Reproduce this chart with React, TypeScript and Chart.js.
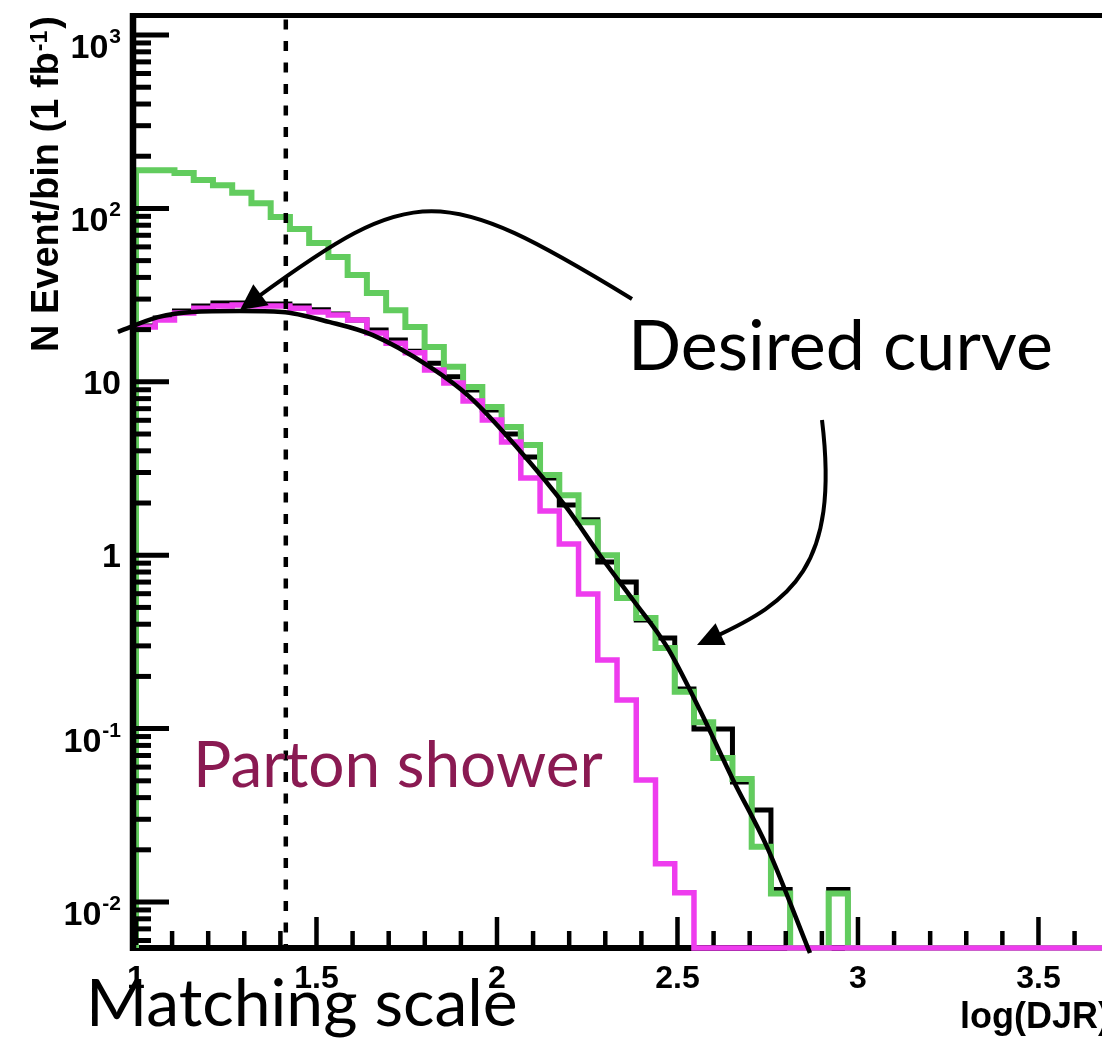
import { useEffect, useRef } from "react";
import { Chart, registerables } from "chart.js";

Chart.register(...registerables);

const W = 1102;
const H = 1039;

// log(DJR) histogram binning
const binStart = 1.0;
const binWidth = 0.0533;

// N events per bin (1 fb^-1), one entry per bin starting at binStart
const greenSample = [
  166, 166, 160, 146, 136, 123, 107, 89.2, 76.1, 63.2,
  52.5, 41.3, 32.5, 25.9, 20.7, 15.9, 12.2, 9.33, 7.16, 5.49,
  4.32, 2.9, 2.22, 1.55, 1.0, 0.567, 0.434, 0.292, 0.163, 0.109,
  0.0677, 0.0512, 0.0208, 0.0112, 0, 0, 0.0112, 0, 0, 0,
  0, 0, 0, 0, 0, 0, 0, 0, 0, 0, 0,
];
const showerSample = [
  20.7, 22.7, 24.9, 26.6, 27.4, 27.7, 27.4, 27.4, 26.6, 25.3,
  24.3, 22.7, 19.1, 16.7, 14.7, 11.7, 9.84, 7.75, 6.02, 4.5,
  2.79, 1.8, 1.16, 0.597, 0.249, 0.146, 0.0505, 0.0166, 0.0113, 0,
  0, 0, 0, 0, 0, 0, 0, 0, 0, 0,
  0, 0, 0, 0, 0, 0, 0, 0, 0, 0, 0,
];
const blackSample = [
  21.0, 23.3, 25.6, 27.4, 28.5, 28.5, 28.1, 28.1, 27.4, 26.0,
  24.6, 22.7, 19.9, 17.4, 15.0, 12.8, 10.7, 8.97, 6.88, 5.0,
  3.68, 2.79, 1.95, 1.6, 0.914, 0.7, 0.423, 0.333, 0.169, 0.0995,
  0.0995, 0.0492, 0.0339, 0.0118, 0, 0, 0.0118, 0, 0, 0,
  0, 0, 0, 0, 0, 0, 0, 0, 0, 0, 0,
];

// smooth target curve
const curveX = [0.95, 1.061, 1.155, 1.288, 1.404, 1.537, 1.656, 1.814, 1.925, 2.055, 2.194, 2.285, 2.377, 2.471, 2.562, 2.654, 2.748, 2.867];
const curveY = [19.4, 23.6, 25.3, 25.6, 25.3, 22.1, 18.6, 12.2, 8.17, 4.2, 1.87, 1.0, 0.552, 0.296, 0.128, 0.0506, 0.0208, 0.00508];

// axes
const xTickValues = [1, 1.5, 2, 2.5, 3, 3.5];
const xTickLabels = ["1", "1.5", "2", "2.5", "3", "3.5"];
const yTickValues = [0.01, 0.1, 1, 10, 100, 1000];
const yTickLabels = ["10^-2", "10^-1", "1", "10", "10^2", "10^3"];
const matchingScale = 1.415;

const X_MIN = 0.9917;
const X_MAX = 3.676;
const Y_MIN = 0.00543;
const Y_MAX = 1296;

const SANS = '"Liberation Sans", Arial, Helvetica, sans-serif';
const NOTE = 'Lato, "Open Sans", sans-serif';

// histogram outline: empty bins sit on the frame floor
function stepPoints(counts: number[], leadingEdge: boolean) {
  const pts: { x: number; y: number }[] = leadingEdge ? [{ x: binStart, y: Y_MIN }] : [];
  counts.forEach((c, i) => pts.push({ x: binStart + i * binWidth, y: c > 0 ? c : Y_MIN }));
  const last = counts[counts.length - 1];
  pts.push({ x: binStart + counts.length * binWidth, y: last > 0 ? last : Y_MIN });
  return pts;
}

function seg(ctx: CanvasRenderingContext2D, x1: number, y1: number, x2: number, y2: number) {
  ctx.beginPath();
  ctx.moveTo(x1, y1);
  ctx.lineTo(x2, y2);
  ctx.stroke();
}

function arrow(
  ctx: CanvasRenderingContext2D,
  p0: number[],
  c1: number[],
  c2: number[],
  tip: number[],
  len: number,
  half: number
) {
  const dx = tip[0] - c2[0];
  const dy = tip[1] - c2[1];
  const d = Math.hypot(dx, dy);
  const ux = dx / d;
  const uy = dy / d;
  const ex = tip[0] - ux * len * 0.7;
  const ey = tip[1] - uy * len * 0.7;
  ctx.beginPath();
  ctx.moveTo(p0[0], p0[1]);
  ctx.bezierCurveTo(c1[0], c1[1], c2[0], c2[1], ex, ey);
  ctx.stroke();
  const bx = tip[0] - ux * len;
  const by = tip[1] - uy * len;
  ctx.beginPath();
  ctx.moveTo(tip[0], tip[1]);
  ctx.lineTo(bx - uy * half, by + ux * half);
  ctx.lineTo(bx + uy * half, by - ux * half);
  ctx.closePath();
  ctx.fill();
}

function drawYLabel(ctx: CanvasRenderingContext2D, label: string, y: number) {
  const right = 121;
  ctx.textAlign = "right";
  ctx.textBaseline = "alphabetic";
  const parts = label.split("^");
  if (parts.length === 1) {
    ctx.font = `bold 34px ${SANS}`;
    ctx.fillText(parts[0], right, y + 12);
    return;
  }
  ctx.font = `bold 21px ${SANS}`;
  const sw = ctx.measureText(parts[1]).width;
  ctx.fillText(parts[1], right, y + 8);
  ctx.font = `bold 34px ${SANS}`;
  ctx.fillText(parts[0], right - sw - 1, y + 23);
}

const frame = {
  id: "frame",
  beforeDatasetsDraw(chart: any) {
    const { ctx, chartArea: a } = chart;
    ctx.save();
    ctx.strokeStyle = "#000";
    ctx.lineWidth = 6;
    seg(ctx, a.left - 3, a.bottom, a.right, a.bottom);
    ctx.lineWidth = 5;
    seg(ctx, a.left - 3, a.top, a.right, a.top);
    ctx.restore();
  },
  afterDatasetsDraw(chart: any) {
    const { ctx, chartArea: a, scales } = chart;
    const xs = scales.x;
    const ys = scales.y;
    ctx.save();
    ctx.strokeStyle = "#000";
    ctx.fillStyle = "#000";
    ctx.lineCap = "butt";

    // left axis
    ctx.lineWidth = 6.5;
    seg(ctx, a.left, a.top - 2.5, a.left, a.bottom + 3);

    // y ticks, pointing inwards
    ctx.lineWidth = 5;
    for (let e = -3; e <= 3; e++) {
      for (let k = 1; k <= 9; k++) {
        const v = k * Math.pow(10, e);
        if (v < Y_MIN || v > Y_MAX) continue;
        const y = ys.getPixelForValue(v);
        seg(ctx, a.left, y, a.left + (k === 1 ? 36 : 18), y);
      }
    }
    // x ticks
    ctx.lineWidth = 4.5;
    for (let k = 10; k <= 36; k++) {
      const x = xs.getPixelForValue(k / 10);
      const len = k % 5 === 0 ? 28 : 14;
      seg(ctx, x, a.bottom - 3, x, a.bottom - 3 - len);
    }

    // matching scale
    ctx.lineWidth = 4.5;
    ctx.setLineDash([10, 11.5]);
    const xm = xs.getPixelForValue(matchingScale);
    seg(ctx, xm, a.top + 4, xm, a.bottom - 3);
    ctx.setLineDash([]);

    // tick labels
    yTickValues.forEach((v, i) => drawYLabel(ctx, yTickLabels[i], ys.getPixelForValue(v)));
    ctx.font = `bold 32px ${SANS}`;
    ctx.textAlign = "center";
    xTickValues.forEach((v, i) => ctx.fillText(xTickLabels[i], xs.getPixelForValue(v), 988));

    // axis titles
    ctx.font = `bold 36px ${SANS}`;
    ctx.textAlign = "right";
    ctx.fillText("log(DJR)", 1110, 1028);

    ctx.save();
    ctx.translate(58, 352);
    ctx.rotate(-Math.PI / 2);
    ctx.textAlign = "left";
    ctx.font = `bold 38px ${SANS}`;
    const t1 = "N Event/bin (1 fb";
    const w1 = ctx.measureText(t1).width;
    ctx.fillText(t1, 0, 0);
    ctx.font = `bold 23px ${SANS}`;
    const w2 = ctx.measureText("-1").width;
    ctx.fillText("-1", w1 + 1, -11);
    ctx.font = `bold 38px ${SANS}`;
    ctx.fillText(")", w1 + w2 + 3, 0);
    ctx.restore();

    // notes
    ctx.lineWidth = 4;
    arrow(ctx, [632, 299], [440, 182], [415, 182], [240, 310], 26, 13);
    arrow(ctx, [822, 420], [840, 568], [790, 602], [697, 645], 26, 12);

    ctx.textAlign = "left";
    ctx.font = `70px ${NOTE}`;
    ctx.fillText("Desired curve", 628, 370);
    ctx.font = `66px ${NOTE}`;
    ctx.fillText("Matching scale", 86, 1026);
    ctx.fillStyle = "#8a1a52";
    ctx.font = `64px ${NOTE}`;
    ctx.fillText("Parton shower", 193, 787);
    ctx.restore();
  },
};

export default function App() {
  const ref = useRef<HTMLCanvasElement>(null);

  useEffect(() => {
    if (!ref.current) return;
    const hist = (data: number[], color: string, width: number, leadingEdge: boolean) => ({
      data: stepPoints(data, leadingEdge),
      borderColor: color,
      borderWidth: width,
      stepped: "before" as const,
      pointRadius: 0,
      fill: false,
      tension: 0,
      borderJoinStyle: "miter" as const,
      clip: 8,
    });
    const chart = new Chart(ref.current, {
      type: "line",
      data: {
        datasets: [
          {
            data: curveX.map((x, i) => ({ x, y: curveY[i] })),
            borderColor: "#000",
            borderWidth: 4.5,
            pointRadius: 0,
            fill: false,
            cubicInterpolationMode: "monotone",
            clip: false,
          } as any,
          hist(showerSample, "#ee3cee", 5.5, false),
          hist(greenSample, "#62cc5e", 6, true),
          hist(blackSample, "#000", 5, false),
        ],
      },
      options: {
        responsive: false,
        animation: false,
        events: [],
        layout: { padding: { left: 133, top: 15.5, right: 0, bottom: 91 } },
        plugins: { legend: { display: false }, tooltip: { enabled: false } },
        scales: {
          x: { type: "linear", min: X_MIN, max: X_MAX, display: false, bounds: "data" },
          y: { type: "logarithmic", min: Y_MIN, max: Y_MAX, display: false, bounds: "data" },
        },
      },
      plugins: [frame],
    });
    return () => chart.destroy();
  }, []);

  return (
    <div style={{ position: "absolute", left: 0, top: 0, width: W, height: H, background: "#fff" }}>
      <canvas ref={ref} width={W} height={H} style={{ display: "block", width: W, height: H }} />
    </div>
  );
}
